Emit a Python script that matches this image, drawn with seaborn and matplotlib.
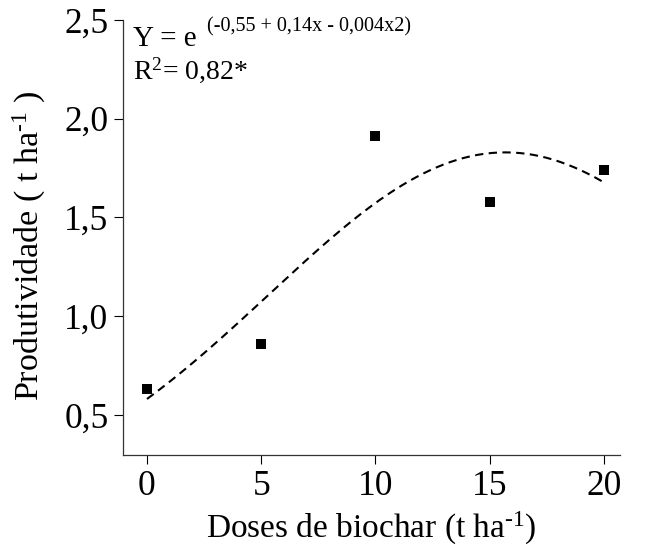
import numpy as np
import pandas as pd
import matplotlib
matplotlib.use("Agg")
import matplotlib.pyplot as plt
import seaborn as sns

# Data
doses = [0, 5, 10, 15, 20]
produtividade = [0.63, 0.86, 1.91, 1.58, 1.74]
# exponential-quadratic fit coefficients (a, b, c) of Y = exp(a + b x + c x^2), fitted to drawn curve
curve_coef = [-0.545, 0.1465, -0.00467]
x_ticks = [0, 5, 10, 15, 20]
y_ticks = [0.5, 1.0, 1.5, 2.0, 2.5]
y_tick_labels = ["0,5", "1,0", "1,5", "2,0", "2,5"]

sns.set_theme(style="ticks")
plt.rcParams["font.family"] = ["Liberation Serif", "DejaVu Serif"]
plt.rcParams["mathtext.fontset"] = "custom"
plt.rcParams["mathtext.rm"] = "Liberation Serif"
plt.rcParams["mathtext.it"] = "Liberation Serif:italic"
plt.rcParams["mathtext.bf"] = "Liberation Serif:bold"

fig = plt.figure(figsize=(6.56, 5.5), dpi=100)
ax = fig.add_axes([123/656, 1 - 455/550, (620 - 123)/656, (455 - 20)/550])

xs = np.linspace(min(doses), max(doses), 200)
ys = np.exp(curve_coef[0] + curve_coef[1]*xs + curve_coef[2]*xs**2)
curve_df = pd.DataFrame({"x": xs, "y": ys})
pts_df = pd.DataFrame({"x": doses, "y": produtividade})

sns.lineplot(data=curve_df, x="x", y="y", ax=ax, color="black", lw=1.5,
             linestyle=(0, (4, 2.6)))
sns.scatterplot(data=pts_df, x="x", y="y", ax=ax, marker="s", s=60,
                color="black", edgecolor="black", linewidth=0, zorder=3)

ax.set_xlim(-1.05, 20.7)
ax.set_ylim(0.296, 2.5)
ax.set_xticks(x_ticks)
ax.set_xticklabels([str(v) for v in x_ticks])
ax.set_yticks(y_ticks)
ax.set_yticklabels(y_tick_labels)
ax.tick_params(axis="both", labelsize=25.5, length=6.5, width=0.8, color="black",
               labelcolor="black", pad=4)
for s in ["top", "right"]:
    ax.spines[s].set_visible(False)
for s in ["left", "bottom"]:
    ax.spines[s].set_color("#333333")
    ax.spines[s].set_linewidth(0.9)

ax.set_xlabel("Doses de biochar (t ha$^{\u2010 1}$)", fontsize=24, color="black", labelpad=5)
ax.set_ylabel("Produtividade ( t ha$^{\u2010 1}$ )", fontsize=24.5, color="black")
ax.yaxis.set_label_coords(-0.15, 0.48)

fig.text(133/656, 1 - 46/550, "Y = e", fontsize=21, color="black", va="baseline")
fig.text(207/656, 1 - 31/550, "(-0,55 + 0,14x - 0,004x2)", fontsize=14.5, color="black", va="baseline")
fig.text(133/656, 1 - 79/550, "R$^2$= 0,82*", fontsize=20, color="black", va="baseline")

fig.savefig("out.png", dpi=100)
